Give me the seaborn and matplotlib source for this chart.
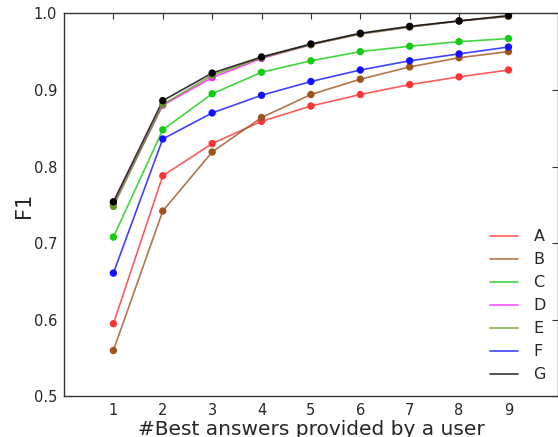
import pandas as pd
import matplotlib
matplotlib.use("Agg")
import matplotlib.pyplot as plt
import seaborn as sns

n_best = [1, 2, 3, 4, 5, 6, 7, 8, 9]
A = [0.595, 0.788, 0.830, 0.859, 0.879, 0.894, 0.907, 0.917, 0.926]
B = [0.560, 0.742, 0.819, 0.864, 0.894, 0.914, 0.930, 0.942, 0.950]
C = [0.708, 0.848, 0.895, 0.923, 0.938, 0.950, 0.957, 0.963, 0.967]
D = [0.751, 0.880, 0.916, 0.941, 0.959, 0.973, 0.982, 0.990, 0.996]
E = [0.748, 0.881, 0.919, 0.942, 0.959, 0.973, 0.982, 0.990, 0.996]
F = [0.661, 0.836, 0.870, 0.893, 0.911, 0.926, 0.938, 0.947, 0.956]
G = [0.754, 0.886, 0.922, 0.943, 0.960, 0.974, 0.983, 0.990, 0.997]

names = ['A', 'B', 'C', 'D', 'E', 'F', 'G']
colors = ['#ff3333', '#a0521c', '#11cc11', '#ff22ff', '#669922', '#1111ff', '#000000']

df = pd.concat([pd.DataFrame({'n': n_best, 'F1': vals, 'method': name})
                for name, vals in zip(names, [A, B, C, D, E, F, G])])
palette = dict(zip(names, colors))

sns.set_style("white")
plt.rcParams['font.family'] = ['DejaVu Sans']
plt.rcParams['xtick.direction'] = 'in'
plt.rcParams['ytick.direction'] = 'in'
plt.rcParams['xtick.top'] = True
plt.rcParams['ytick.right'] = True

fig = plt.figure(figsize=(5.58, 4.37), dpi=100)
ax = fig.add_axes([0.1147, 0.0927, 0.885, 0.8769])

sns.lineplot(data=df, x='n', y='F1', hue='method', palette=palette, ax=ax,
             linewidth=1.2, alpha=0.8)
sns.scatterplot(data=df, x='n', y='F1', hue='method', palette=palette, ax=ax,
                s=28, edgecolor='none', legend=False, zorder=3)

ax.set_xlim(0, 10)
ax.set_ylim(0.5, 1.0)
ax.set_xticks(n_best)
ax.set_yticks([0.5, 0.6, 0.7, 0.8, 0.9, 1.0])
ax.tick_params(axis='both', labelsize=10.5, length=4, width=0.8, color='#333333', pad=5)
for s in ax.spines.values():
    s.set_color('#333333')
    s.set_linewidth(1.0)

ax.set_xlabel('#Best answers provided by a user', fontsize=14.5, labelpad=1)
ax.set_ylabel('F1', fontsize=15, labelpad=0)

ax.legend(loc='lower right', frameon=False, fontsize=11.5, handlelength=1.7,
          handletextpad=1.0, labelspacing=0.5, borderaxespad=0.5,
          bbox_to_anchor=(1.005, 0.0))

plt.savefig('out.png', dpi=100)
